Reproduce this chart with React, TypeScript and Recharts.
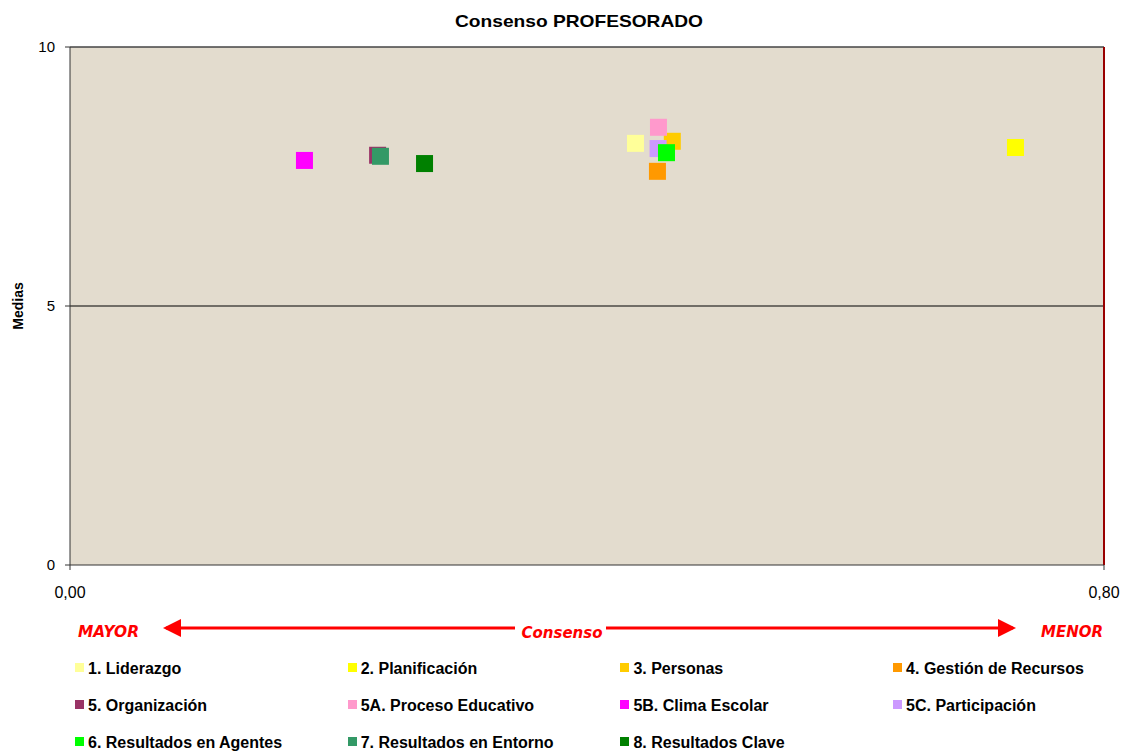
import { ScatterChart, Scatter, XAxis, YAxis, CartesianGrid, ReferenceLine } from 'recharts';

const CRITERIOS = [
  '1. Liderazgo',
  '2. Planificación',
  '3. Personas',
  '4. Gestión de Recursos',
  '5. Organización',
  '5A. Proceso Educativo',
  '5B. Clima Escolar',
  '5C. Participación',
  '6. Resultados en Agentes',
  '7. Resultados en Entorno',
  '8. Resultados Clave',
];

// desviación (consenso) y media de cada criterio
const CONSENSO = [0.4375, 0.7315, 0.466, 0.4545, 0.238, 0.4553, 0.1814, 0.455, 0.4615, 0.2402, 0.2743];
const MEDIAS = [8.14, 8.06, 8.18, 7.6, 7.91, 8.45, 7.81, 8.04, 7.96, 7.89, 7.75];

const COLORES = ['#FFFF99', '#FFFF00', '#FFCC00', '#FF9900', '#993366', '#FF99CC', '#FF00FF', '#CC99FF', '#00FF00', '#339966', '#008000'];

const X_TICKS = [0, 0.8];
const Y_TICKS = [0, 5, 10];

const FONT = '"Liberation Sans", Arial, sans-serif';

const Square = (props: any) => {
  const { cx, cy, fill } = props;
  if (cx == null || cy == null) return null;
  return <rect x={cx - 8.5} y={cy - 8.5} width={17} height={17} fill={fill} />;
};

export default function App() {
  const series = CRITERIOS.map((name, i) => ({
    name,
    color: COLORES[i],
    data: [{ x: CONSENSO[i], y: MEDIAS[i] }],
  }));

  return (
    <div style={{ position: 'absolute', left: 0, top: 0, width: 1125, height: 756, background: '#fff', fontFamily: FONT }}>
      <ScatterChart width={1125} height={600} margin={{ top: 47, right: 21, left: 30, bottom: 5 }}>
        <CartesianGrid fill="#E3DCCE" horizontal={false} vertical={false} />
        <XAxis
          type="number"
          dataKey="x"
          domain={[0, 0.8]}
          ticks={X_TICKS}
          tickFormatter={(v: number) => v.toFixed(2).replace('.', ',')}
          height={30}
          tickSize={5}
          tickMargin={17}
          stroke="#333"
          tick={{ fill: '#000', fontSize: 16, fontFamily: FONT }}
        />
        <YAxis
          type="number"
          dataKey="y"
          domain={[0, 10]}
          ticks={Y_TICKS}
          width={40}
          tickSize={5}
          tickMargin={10}
          stroke="#333"
          tick={{ fill: '#000', fontSize: 15, fontFamily: FONT }}
        />
        <ReferenceLine y={10} stroke="#444" strokeWidth={1.5} />
        <ReferenceLine y={5} stroke="#000" strokeWidth={1.2} />
        <ReferenceLine x={0.8} stroke="#990000" strokeWidth={2} />
        {series.map(s => (
          <Scatter key={s.name} name={s.name} data={s.data} fill={s.color} shape={Square} isAnimationActive={false} />
        ))}
      </ScatterChart>

      <svg width={1125} height={756} style={{ position: 'absolute', left: 0, top: 0, pointerEvents: 'none' }}>
        <defs>
          <marker id="head" markerWidth="6" markerHeight="6" refX="5" refY="3" orient="auto-start-reverse">
            <path d="M0,0 L6,3 L0,6 Z" fill="#FF0000" />
          </marker>
        </defs>
        <text x={455} y={27} fontSize={17} fontWeight="bold" fontFamily={FONT} textLength={248} lengthAdjust="spacingAndGlyphs">
          Consenso PROFESORADO
        </text>
        <text x={23} y={306} textAnchor="middle" fontSize={14} fontWeight="bold" fontFamily={FONT} transform="rotate(-90 23 306)">
          Medias
        </text>
        {/* flechas de consenso */}
        <g fill="#FF0000" fontFamily='"DejaVu Sans", sans-serif' fontWeight="bold" fontStyle="italic" fontSize={15}>
          <text x={78} y={637} textLength={61} lengthAdjust="spacingAndGlyphs">MAYOR</text>
          <text x={562} y={638} textAnchor="middle">Consenso</text>
          <text x={1103} y={637} textAnchor="end">MENOR</text>
        </g>
        <line x1={515} y1={628} x2={166} y2={628} stroke="#FF0000" strokeWidth={3} markerEnd="url(#head)" />
        <line x1={606} y1={628} x2={1013} y2={628} stroke="#FF0000" strokeWidth={3} markerEnd="url(#head)" />
      </svg>

      <div style={{ position: 'absolute', left: 0, top: 658, width: 1125 }}>
        {series.map((s, i) => (
          <div
            key={s.name}
            style={{
              position: 'absolute',
              left: 75 + (i % 4) * 272.7,
              top: Math.floor(i / 4) * 37,
              display: 'flex',
              alignItems: 'center',
              height: 22,
              fontSize: 16,
              fontWeight: 'bold',
              whiteSpace: 'nowrap',
            }}
          >
            <span style={{ display: 'inline-block', width: 9, height: 9, background: s.color, marginRight: 4, marginTop: -4 }} />
            {s.name}
          </div>
        ))}
      </div>
    </div>
  );
}
